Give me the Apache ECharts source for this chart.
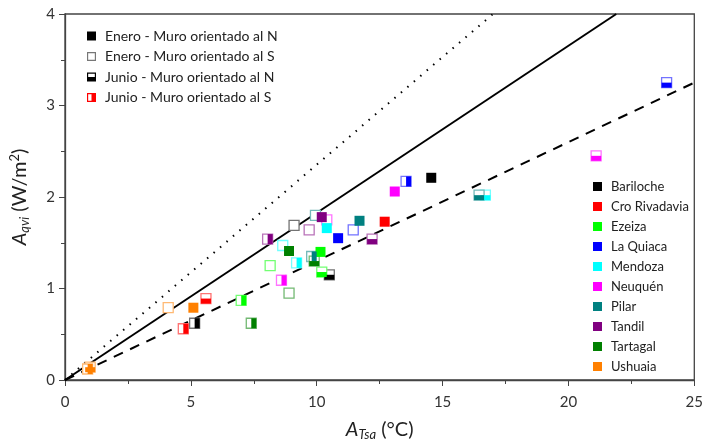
<!DOCTYPE html>
<html>
<head>
<meta charset="utf-8">
<script src="https://cdn.jsdelivr.net/npm/echarts@6/dist/echarts.min.js"></script>
<style>
  html, body { margin: 0; padding: 0; background: #fff; }
  #chart { width: 706px; height: 446px; }
</style>
</head>
<body>
<div id="chart"></div>
<script>
const stations = ['Bariloche', 'Cro Rivadavia', 'Ezeiza', 'La Quiaca', 'Mendoza', 'Neuquén', 'Pilar', 'Tandil', 'Tartagal', 'Ushuaia'];
const stationColors = ['#000000', '#ff0000', '#00ff00', '#0000ff', '#00ffff', '#ff00ff', '#008080', '#800080', '#008000', '#ff8000'];

// [A_Tsa, A_qvi] per station, same order as stations
const eneroN = [[14.55, 2.21], [12.7, 1.73], [10.15, 1.40], [10.85, 1.55], [10.4, 1.66], [13.1, 2.06], [11.7, 1.74], [10.2, 1.78], [8.9, 1.41], [5.1, 0.79]];
const eneroS = [[9.1, 1.69], null, [8.15, 1.25], [11.45, 1.64], [8.65, 1.47], [10.4, 1.75], [9.95, 1.80], [9.7, 1.64], [8.9, 0.95], [4.1, 0.79]];
const junioN = [[10.5, 1.15], [5.6, 0.89], [10.2, 1.18], [23.9, 3.25], [16.7, 2.02], [21.1, 2.45], [16.45, 2.02], [12.2, 1.54], [9.9, 1.30], [1.0, 0.14]];
const junioS = [[5.15, 0.62], [4.7, 0.56], [7.0, 0.87], [13.55, 2.17], [9.2, 1.28], [8.6, 1.09], [9.8, 1.35], [8.05, 1.54], [7.4, 0.62], [0.9, 0.12]];

// reference lines through the origin: [end x, end y]
const dottedEnd = [17, 4];
const solidEnd = [21.9, 4];
const dashedEnd = [25, 3.25];

const xTicks = [0, 5, 10, 15, 20, 25];
const yTicks = [0, 1, 2, 3, 4];

const legendLabels = ['Enero - Muro orientado al N', 'Enero - Muro orientado al S', 'Junio - Muro orientado al N', 'Junio - Muro orientado al S'];

const font = 'Lato, "Open Sans", sans-serif';
const S = 10;

function pale(hex) {
  const n = parseInt(hex.slice(1), 16);
  const mix = (c) => Math.round(c + (255 - c) * 0.45);
  return 'rgb(' + mix(n >> 16) + ',' + mix((n >> 8) & 255) + ',' + mix(n & 255) + ')';
}

const series = [];
const emptyBox = (name, pts, color) => ({
  name, type: 'scatter', symbol: 'rect', symbolSize: S,
  itemStyle: { color: '#fff', borderColor: pale(color), borderWidth: 1.3, opacity: 1 },
  data: pts, z: 3
});

stations.forEach((st, i) => {
  const c = stationColors[i];
  if (eneroS[i]) series.push(emptyBox(st + ' S1', [eneroS[i]], c));
  series.push(emptyBox(st + ' N6b', [junioN[i]], c));
  series.push({ name: st + ' N6', type: 'scatter', symbol: 'rect', symbolSize: [S, S / 2], symbolOffset: [0, S / 4], itemStyle: { color: c, opacity: 1 }, data: [junioN[i]], z: 4 });
  series.push(emptyBox(st + ' S6b', [junioS[i]], c));
  series.push({ name: st + ' S6', type: 'scatter', symbol: 'rect', symbolSize: [S / 2, S], symbolOffset: [S / 4, 0], itemStyle: { color: c, opacity: 1 }, data: [junioS[i]], z: 4 });
  series.push({ name: st, type: 'scatter', symbol: 'rect', symbolSize: S, itemStyle: { color: c, opacity: 1 }, data: [eneroN[i]], z: 4 });
});

const lineSeries = (name, end, type) => ({
  name, type: 'line', data: [[0, 0], end], symbol: 'none', silent: true, z: 2,
  lineStyle: { color: '#000', width: 2, type }
});
series.push(lineSeries('dotted', dottedEnd, [1.5, 7]));
series.push(lineSeries('solid', solidEnd, 'solid'));
series.push(lineSeries('dashed', dashedEnd, [10, 8]));

// dummy series for the category legend
const catColors = ['#000', '#777', '#000', '#ff0000'];
const catIcons = [
  'rect',
  'path://M0,0 L10,0 L10,10 L0,10 Z M1.3,1.3 L1.3,8.7 L8.7,8.7 L8.7,1.3 Z',
  'path://M0,0 L10,0 L10,10 L0,10 Z M1.3,1.3 L1.3,5 L8.7,5 L8.7,1.3 Z',
  'path://M0,0 L10,0 L10,10 L0,10 Z M1.3,1.3 L1.3,8.7 L5,8.7 L5,1.3 Z'
];
legendLabels.forEach((l, i) => series.push({ name: l, type: 'scatter', data: [], itemStyle: { color: catColors[i], opacity: 1 } }));

const axisLabel = { color: '#333', fontSize: 15, fontFamily: font };
const chart = echarts.init(document.getElementById('chart'), null, { renderer: 'canvas' });
chart.setOption({
  animation: false,
  backgroundColor: '#fff',
  grid: { left: 65, right: 11, top: 14, bottom: 62, show: true, borderColor: '#444', borderWidth: 1.3 },
  legend: [
    {
      data: legendLabels.map((n, i) => ({ name: n, icon: catIcons[i] })),
      orient: 'vertical', left: 82, top: 24, itemWidth: 9, itemHeight: 9, itemGap: 6.5,
      selectedMode: false,
      textStyle: { fontSize: 14, color: '#222', fontFamily: font, padding: [0, 0, 0, 4] }
    },
    {
      data: stations.map((n) => ({ name: n, icon: 'rect' })),
      orient: 'vertical', left: 588, top: 175, itemWidth: 9, itemHeight: 9, itemGap: 7,
      selectedMode: false,
      textStyle: { fontSize: 13, color: '#222', fontFamily: font, padding: [0, 0, 0, 4] }
    }
  ],
  xAxis: {
    type: 'value', min: xTicks[0], max: xTicks[xTicks.length - 1], interval: 5,
    axisLine: { lineStyle: { color: '#444', width: 1.3 } },
    axisTick: { length: 6, lineStyle: { color: '#444' } },
    minorTick: { show: true, splitNumber: 2, length: 4, lineStyle: { color: '#444' } },
    splitLine: { show: false },
    axisLabel: { ...axisLabel, margin: 15 },
    name: '{i|A}{s|Tsa}{n| (°C)}', nameLocation: 'middle', nameGap: 38,
    nameTextStyle: {
      fontFamily: font,
      rich: {
        i: { fontSize: 20, fontStyle: 'italic', color: '#222', fontFamily: font },
        s: { fontSize: 13, fontStyle: 'italic', color: '#222', fontFamily: font, verticalAlign: 'bottom', padding: [10, 0, 0, 0] },
        n: { fontSize: 20, color: '#222', fontFamily: font }
      }
    }
  },
  yAxis: {
    type: 'value', min: yTicks[0], max: yTicks[yTicks.length - 1], interval: 1,
    axisLine: { show: true, lineStyle: { color: '#444', width: 1.3 } },
    axisTick: { show: true, length: 6, lineStyle: { color: '#444' } },
    minorTick: { show: true, splitNumber: 2, length: 4, lineStyle: { color: '#444' } },
    splitLine: { show: false },
    axisLabel: { ...axisLabel, margin: 10 },
    name: '{i|A}{s|qvi}{n| (W/m}{p|2}{n|)}', nameLocation: 'middle', nameGap: 34,
    nameTextStyle: {
      fontFamily: font,
      rich: {
        i: { fontSize: 20, fontStyle: 'italic', color: '#222', fontFamily: font },
        s: { fontSize: 13, fontStyle: 'italic', color: '#222', fontFamily: font, verticalAlign: 'bottom', padding: [10, 0, 0, 0] },
        n: { fontSize: 20, color: '#222', fontFamily: font },
        p: { fontSize: 13, color: '#222', fontFamily: font, verticalAlign: 'top', padding: [0, 0, 10, 0] }
      }
    }
  },
  series
});
</script>
</body>
</html>
